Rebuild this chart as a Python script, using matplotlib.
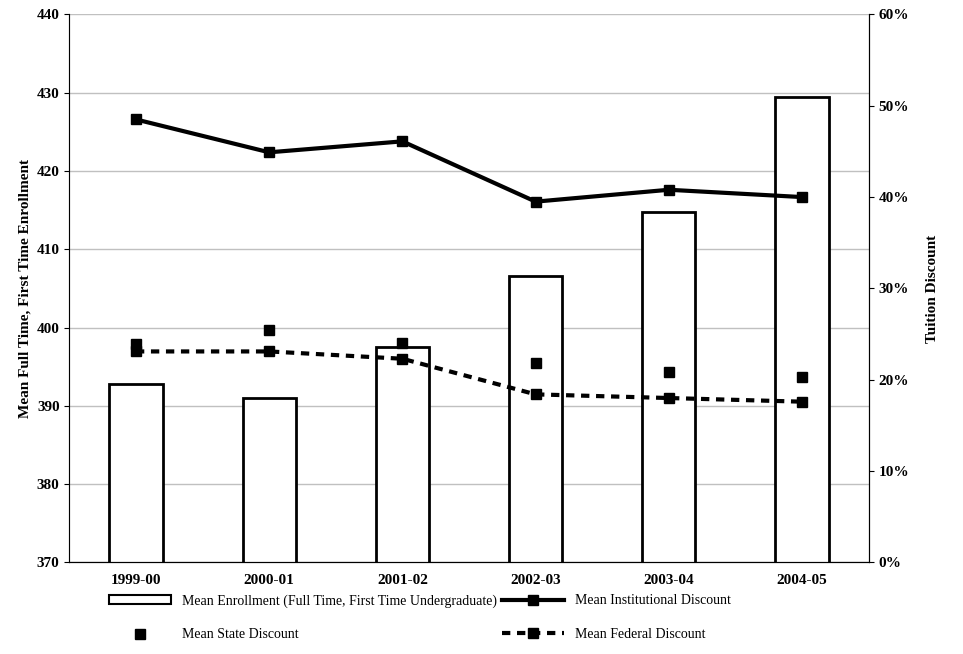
import matplotlib
matplotlib.use("Agg")
import matplotlib.pyplot as plt
from matplotlib.ticker import FuncFormatter
from matplotlib.lines import Line2D
from matplotlib.patches import Patch

years = ["1999-00", "2000-01", "2001-02", "2002-03", "2003-04", "2004-05"]
enrollment = [392.8, 391.0, 397.5, 406.6, 414.8, 429.5]
institutional = [48.5, 44.9, 46.1, 39.5, 40.8, 40.0]
state = [23.9, 25.4, 24.0, 21.8, 20.9, 20.3]
federal = [23.1, 23.1, 22.3, 18.4, 18.0, 17.6]

plt.rcParams['font.family'] = ['Liberation Serif', 'DejaVu Serif']
fig = plt.figure(figsize=(9.63, 6.54), dpi=100)
ax = fig.add_axes([0.072, 0.14, 0.83, 0.838])
x = list(range(len(years)))
ax.bar(x, enrollment, width=0.4, bottom=0, facecolor='white', edgecolor='black', linewidth=2, zorder=2)
ax.set_ylim(370, 440)
ax.set_xlim(-0.5, 5.5)
ax.set_yticks(range(370, 441, 10))
ax.yaxis.grid(True, color='#c0c0c0', linewidth=1, zorder=0)
ax.set_axisbelow(True)
ax.set_xticks(x)
ax.set_xticklabels(years, fontweight='bold', fontsize=11)
for lab in ax.get_yticklabels():
    lab.set_fontweight('bold'); lab.set_fontsize(11)
ax.set_ylabel("Mean Full Time, First Time Enrollment", fontweight='bold', fontsize=11)
ax.spines['top'].set_visible(False)
ax.spines['left'].set_color('#808080')
ax.tick_params(axis='x', length=0, pad=8)

ax2 = ax.twinx()
ax2.set_ylim(0, 60)
ax2.set_yticks(range(0, 61, 10))
ax2.yaxis.set_major_formatter(FuncFormatter(lambda v, p: f"{int(v)}%"))
for lab in ax2.get_yticklabels():
    lab.set_fontweight('bold'); lab.set_fontsize(11)
ax2.set_ylabel("Tuition Discount", fontweight='bold', fontsize=11, labelpad=12)
ax2.spines['top'].set_visible(False)
dash = (0, (2.0, 1.6))
ax2.plot(x, institutional, color='black', linewidth=3, marker='s', markersize=7, zorder=3)
ax2.plot(x, state, linestyle='none', color='black', marker='s', markersize=7, zorder=3)
ax2.plot(x, federal, color='black', linewidth=3, linestyle=dash, marker='s', markersize=7, zorder=3)

h_enr = Patch(facecolor='white', edgecolor='black', linewidth=1.5)
h_inst = Line2D([], [], color='black', lw=3, marker='s', markersize=7)
h_state = Line2D([], [], color='black', lw=0, marker='s', markersize=7)
h_fed = Line2D([], [], color='black', lw=3, ls=dash, marker='s', markersize=7)
handles = [h_enr, h_state, h_inst, h_fed]
labels = ["Mean Enrollment (Full Time, First Time Undergraduate)", "Mean State Discount",
          "Mean Institutional Discount", "Mean Federal Discount"]
fig.legend(handles, labels, loc='lower left', bbox_to_anchor=(0.1, 0.0), ncol=2, frameon=False,
           fontsize=10, columnspacing=0.3, handlelength=4.5, labelspacing=1.5)
fig.savefig("out.png")
